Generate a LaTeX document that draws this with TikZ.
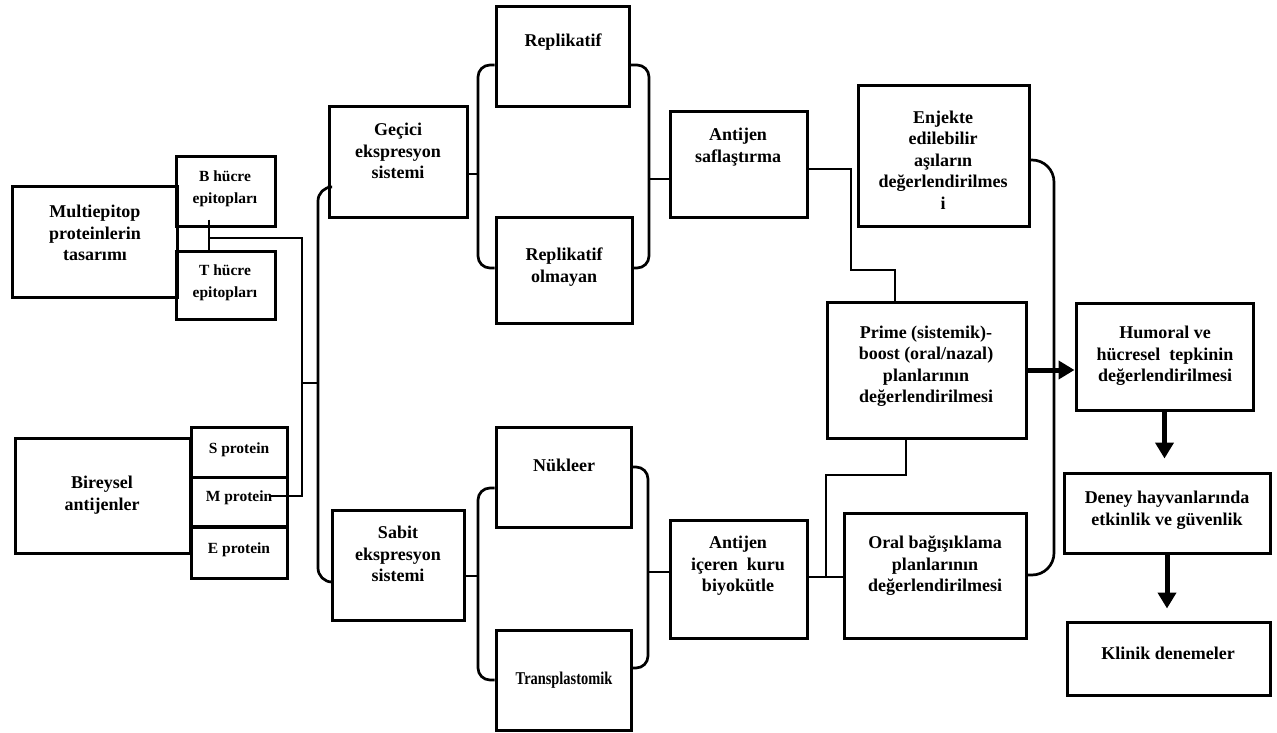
\documentclass[tikz,border=0pt]{standalone}
\usepackage{fontspec}
\setmainfont{Liberation Serif}
\usetikzlibrary{arrows.meta}
\tikzset{
  box/.style={draw=black, line width=3pt, inner sep=0pt},
  txt/.style={align=center, inner sep=0pt, font=\bfseries\fontsize{18}{21.5}\selectfont},
  stxt/.style={align=center, inner sep=0pt, font=\bfseries\fontsize{15.5}{22}\selectfont},
  conn/.style={line width=2.7pt},
  rc/.style={rounded corners=12pt},
  arr/.style={line width=5pt, -{Triangle[length=16pt,width=18pt]}}
}
\begin{document}
\begin{tikzpicture}[x=1pt,y=-1pt]
\useasboundingbox (0,0) rectangle (1277,733);
% boxes
\node[box, minimum width=165, minimum height=111] (multi) at (94.5,241.5) {};
\node[box, minimum width=99, minimum height=69] (bhuc) at (225.5,191.5) {};
\node[box, minimum width=99, minimum height=68] (thuc) at (225.5,285) {};
\node[box, minimum width=175, minimum height=115] (birey) at (102.5,495.5) {};
\node[box, minimum width=96, minimum height=50] (sprot) at (239,452) {};
\node[box, minimum width=96, minimum height=49] (mprot) at (239,501.5) {};
\node[box, minimum width=96, minimum height=51] (eprot) at (239,552.5) {};
\node[box, minimum width=138, minimum height=110] (gecici) at (398,162) {};
\node[box, minimum width=132, minimum height=110] (sabit) at (398,565) {};
\node[box, minimum width=133, minimum height=100] (rep) at (562.5,57) {};
\node[box, minimum width=136, minimum height=106] (repol) at (564,270) {};
\node[box, minimum width=135, minimum height=100] (nuk) at (563.5,477) {};
\node[box, minimum width=135, minimum height=100] (trans) at (563.5,680) {};
\node[box, minimum width=137, minimum height=105] (saf) at (738.5,164.5) {};
\node[box, minimum width=137, minimum height=118] (kuru) at (738.5,579) {};
\node[box, minimum width=171, minimum height=140] (enj) at (943.5,156) {};
\node[box, minimum width=199, minimum height=136] (prime) at (926.5,370) {};
\node[box, minimum width=182, minimum height=125] (oral) at (935,575.5) {};
\node[box, minimum width=177, minimum height=107] (hum) at (1164.5,356.5) {};
\node[box, minimum width=206, minimum height=80] (deney) at (1167,513) {};
\node[box, minimum width=203, minimum height=73] (klinik) at (1168.5,658.5) {};
% texts
\node[txt] (multi-t) at (95,233) {Multiepitop\\proteinlerin\\tasarımı};
\node[stxt] (bhuc-t) at (225,189) {B hücre\\epitopları};
\node[stxt] (thuc-t) at (225,283) {T hücre\\epitopları};
\node[txt] (birey-t) at (102,495) {Bireysel\\antijenler};
\node[stxt] (sprot-t) at (239,450) {S protein};
\node[stxt] (mprot-t) at (239,498) {M protein};
\node[stxt] (eprot-t) at (239,550) {E protein};
\node[txt] (gecici-t) at (398,151) {Geçici\\ekspresyon\\sistemi};
\node[txt] (sabit-t) at (398,554) {Sabit\\ekspresyon\\sistemi};
\node[txt] (rep-t) at (563,42) {Replikatif};
\node[txt] (repol-t) at (564,267) {Replikatif\\olmayan};
\node[txt] (nuk-t) at (564,465) {Nükleer};
\node[txt] (trans-t) at (564,680) {\scalebox{0.8}[1]{Transplastomik}};
\node[txt] (saf-t) at (738,147) {Antijen\\saflaştırma};
\node[txt] (kuru-t) at (738,566) {Antijen\\içeren\ \ kuru\\biyokütle};
\node[txt] (enj-t) at (943,160) {Enjekte\\edilebilir\\aşıların\\değerlendirilmes\\i};
\node[txt] (prime-t) at (926,366) {Prime (sistemik)-\\boost (oral/nazal)\\planlarının\\değerlendirilmesi};
\node[txt] (oral-t) at (935,566) {Oral bağışıklama\\planlarının\\değerlendirilmesi};
\node[txt] (hum-t) at (1165,356) {Humoral ve\\hücresel\ \ tepkinin\\değerlendirilmesi};
\node[txt] (deney-t) at (1167,510) {Deney hayvanlarında\\etkinlik ve güvenlik};
\node[txt] (klinik-t) at (1168,653) {Klinik denemeler};
% connectors left
\coordinate (jBT) at (209,238);
\coordinate (mEnd) at (270,496);
\draw[conn] ([yshift=8pt]bhuc.south -| jBT) -- (thuc.north -| jBT);
\draw[conn] (jBT) -| (302,496) -- (mEnd);
\draw[conn] (302,383) -- (318,383);
\draw[conn, rounded corners=14pt] (gecici.west |- 0,187) -- (318,187) -- (318,582) -- (sabit.west |- 0,582);
% upper branch
\draw[conn] (gecici.east |- 0,174) -- (478,174);
\draw[conn, rc] (rep.west |- 0,65) -- (478,65) -- (478,268) -- (repol.west |- 0,268);
\draw[conn, rc] (rep.east |- 0,65) -- (649,65) -- (649,268) -- (repol.east |- 0,268);
\draw[conn] (649,179) -- (saf.west |- 0,179);
% lower branch
\draw[conn] (sabit.east |- 0,576) -- (478,576);
\draw[conn, rc] (nuk.west |- 0,488) -- (478,488) -- (478,680) -- (trans.west |- 0,680);
\draw[conn, rc] (nuk.east |- 0,467) -- (648,467) -- (648,668) -- (trans.east |- 0,668);
\draw[conn] (648,572) -- (kuru.west |- 0,572);
% right part
\draw[conn] (saf.east |- 0,169) -- (851,169) -- (851,270) -- (895,270) -- (prime.north -| 895,0);
\draw[conn] (prime.south -| 906,0) -- (906,475) -- (826,475) -- (826,577);
\draw[conn] (kuru.east |- 0,577) -- (oral.west |- 0,577);
\draw[conn, rounded corners=22pt] (enj.east |- 0,160) -- (1054,160) -- (1054,575) -- (oral.east |- 0,575);
\draw[arr] (prime.east |- 0,370) -- (hum.west |- 0,370);
\draw[arr, shorten >=13pt] (hum.south) -- (hum.south |- deney.north);
\draw[arr, shorten >=12pt] (deney.south) -- (deney.south |- klinik.north);
\end{tikzpicture}
\end{document}
